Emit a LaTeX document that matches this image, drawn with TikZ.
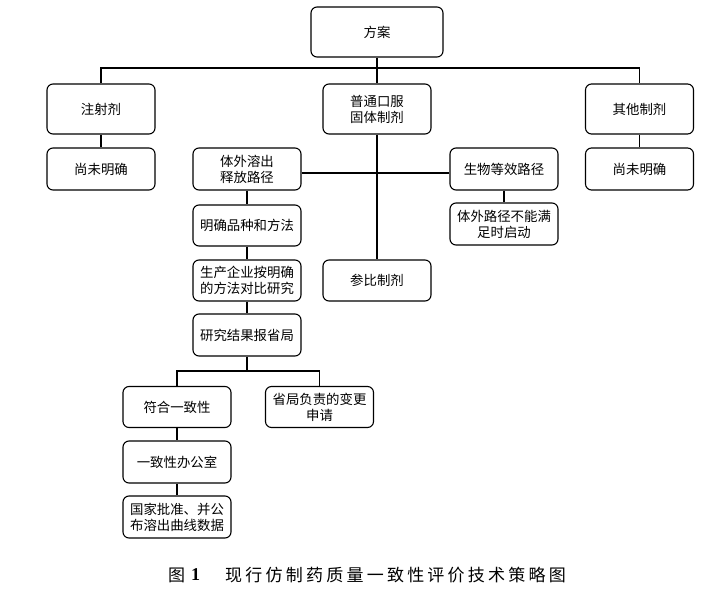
\documentclass[tikz,border=0pt]{standalone}
\usepackage{fontspec}
\setmainfont{Noto Sans CJK SC}
\newfontfamily\capfont[LetterSpace=19]{Noto Sans CJK SC}
\newfontfamily\latinserif{Liberation Serif}
\begin{document}
\begin{tikzpicture}[x=1pt,y=-1pt,
  box/.style={draw,line width=1.1pt,rounded corners=6pt,inner sep=0pt,
    minimum width=108pt,align=center,font=\fontsize{13.4}{16}\selectfont},
  conn/.style={line width=1.1pt}]
\useasboundingbox[fill=white] (0,0) rectangle (722,596);
% level 0
\node[box,minimum width=132pt,minimum height=50pt] (fangan) at (377,32) {方案};
% level 1
\node[box,minimum height=50pt] (zhushe) at (101,109) {注射剂};
\node[box,minimum height=50pt] (putong) at (377,109) {普通口服\\固体制剂};
\node[box,minimum height=50pt] (qita) at (639.5,109) {其他制剂};
% level 2
\node[box,minimum height=42pt] (weiming1) at (101,169) {尚未明确};
\node[box,minimum height=42pt] (tiwai) at (247,169) {体外溶出\\释放路径};
\node[box,minimum height=42pt] (shengwu) at (504,169) {生物等效路径};
\node[box,minimum height=42pt] (weiming2) at (639.5,169) {尚未明确};
% level 3
\node[box,minimum height=41pt] (mingque) at (247,225.5) {明确品种和方法};
\node[box,minimum height=42pt] (tiwailujing) at (504,224) {体外路径不能满\\足时启动};
\node[box,minimum height=41pt] (canbi) at (377,280.5) {参比制剂};
\node[box,minimum height=41pt] (shengchan) at (247,280.5) {生产企业按明确\\的方法对比研究};
\node[box,minimum height=42pt] (yanjiu) at (247,335) {研究结果报省局};
\node[box,minimum height=41pt] (fuhe) at (177,407) {符合一致性};
\node[box,minimum height=41pt] (shengju) at (319.5,407) {省局负责的变更\\申请};
\node[box,minimum height=42pt] (yizhi) at (177,462) {一致性办公室};
\node[box,minimum height=42pt] (guojia) at (177,517) {国家批准、并公\\布溶出曲线数据};
% connectors
\coordinate (b1) at (377,68);
\coordinate (h1) at (377,173);
\coordinate (b2) at (247,371);
\draw[conn] (fangan.south) -- (putong.north);
\draw[conn] (zhushe.north) |- (b1) -| (qita.north);
\draw[conn] (zhushe.south) -- (weiming1.north);
\draw[conn] (qita.south) -- (weiming2.north);
\draw[conn] (putong.south) -- (canbi.north);
\draw[conn] (tiwai.east |- h1) -- (shengwu.west |- h1);
\draw[conn] (tiwai.south) -- (mingque.north);
\draw[conn] (mingque.south) -- (shengchan.north);
\draw[conn] (shengchan.south) -- (yanjiu.north);
\draw[conn] (shengwu.south) -- (tiwailujing.north);
\draw[conn] (yanjiu.south) -- (b2);
\draw[conn] (fuhe.north) |- (b2) -| (shengju.north);
\draw[conn] (fuhe.south) -- (yizhi.north);
\draw[conn] (yizhi.south) -- (guojia.north);
% caption
\node[anchor=west,inner sep=0pt,font=\fontsize{17}{17}\selectfont] (captu) at (168,575) {图};
\node[anchor=west,inner sep=0pt,font=\fontsize{18}{18}\selectfont\latinserif\bfseries] (capnum) at (191,575) {1};
\node[anchor=west,inner sep=0pt,font=\fontsize{17}{17}\selectfont\capfont] (captext) at (225,575) {现行仿制药质量一致性评价技术策略图};
\end{tikzpicture}
\end{document}
